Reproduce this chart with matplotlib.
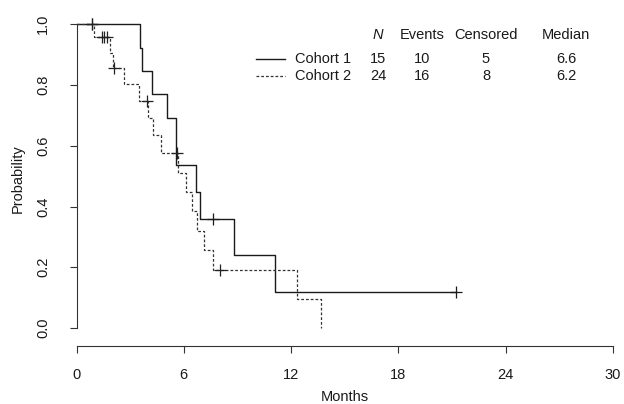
import matplotlib
matplotlib.use("Agg")
import matplotlib.pyplot as plt
from matplotlib.lines import Line2D

plt.rcParams['font.family'] = ['Liberation Sans', 'DejaVu Sans']

# ---- data ----
c1_times = [0, 3.53, 3.68, 4.24, 5.04, 5.54, 6.66, 6.9, 8.8, 11.1]
c1_surv = [1.0, 0.923, 0.846, 0.769, 0.692, 0.538, 0.448, 0.359, 0.239, 0.120]
c1_end = 21.2
c1_cens_t = [0.85, 7.63, 21.2]
c1_cens_s = [1.0, 0.359, 0.120]

c2_times = [0, 1.0, 1.9, 2.05, 2.65, 3.47, 4.0, 4.3, 4.7, 5.65, 6.15, 6.47, 6.75, 7.15, 7.65, 12.35, 13.65]
c2_surv = [1.0, 0.957, 0.906, 0.856, 0.802, 0.749, 0.691, 0.634, 0.576, 0.512, 0.448, 0.384, 0.320, 0.256, 0.192, 0.096, 0.0]
c2_end = 13.65
c2_cens_t = [0.85, 1.4, 1.55, 1.7, 2.1, 3.92, 5.6, 8.05]
c2_cens_s = [1.0, 0.957, 0.957, 0.957, 0.856, 0.749, 0.576, 0.192]

cohorts = ["Cohort 1", "Cohort 2"]
n_vals = ["15", "24"]
events = ["10", "16"]
censored = ["5", "8"]
medians = ["6.6", "6.2"]

xticks = [0, 6, 12, 18, 24, 30]
yticks = [0.0, 0.2, 0.4, 0.6, 0.8, 1.0]

W, H = 624, 404
fig = plt.figure(figsize=(W / 100, H / 100), dpi=100)

def fx(px):
    return px / W

def fy(py):
    return 1 - py / H

# axes placement in pixels
x0_px, x30_px = 76.5, 613.0
y1_px, y0_px = 24.3, 328.0
ppu = y0_px - y1_px
ybot, ytop = -0.058, 1.04
ax_bottom_px = y0_px - ybot * ppu
ax_top_px = y0_px - ytop * ppu
ax = fig.add_axes([fx(x0_px), fy(ax_bottom_px), fx(x30_px) - fx(x0_px), fy(ax_top_px) - fy(ax_bottom_px)])
ax.set_xlim(0, 30)
ax.set_ylim(ybot, ytop)

solid_kw = dict(color="#1a1a1a", lw=1.0)
dash_kw = dict(color="#333333", lw=0.9, dashes=(2.2, 1.6))

ax.step(c1_times + [c1_end], c1_surv + [c1_surv[-1]], where="post", **solid_kw)
ax.step(c2_times + [c2_end], c2_surv + [c2_surv[-1]], where="post", **dash_kw)
ax.plot(c1_cens_t, c1_cens_s, ls="none", marker="+", ms=9, mew=0.9, color="#1a1a1a")
ax.plot(c2_cens_t, c2_cens_s, ls="none", marker="+", ms=9, mew=0.9, color="#222222")

for s in ["top", "right"]:
    ax.spines[s].set_visible(False)
ax.spines["left"].set_bounds(0, 1)
ax.spines["bottom"].set_bounds(0, 30)
for s in ["left", "bottom"]:
    ax.spines[s].set_linewidth(0.8)
    ax.spines[s].set_color("#333333")

ax.set_xticks(xticks)
ax.set_xticklabels([str(t) for t in xticks])
ax.set_yticks(yticks)
ax.set_yticklabels([f"{t:.1f}" for t in yticks], rotation=90, va="center")
ax.tick_params(axis="both", length=5, width=0.8, color="#333333", labelsize=10.5, labelcolor="#1a1a1a")
ax.tick_params(axis="x", pad=11)
ax.tick_params(axis="y", pad=14)

ax.set_xlabel("Months", fontsize=10.5, color="#1a1a1a", labelpad=6)
ax.set_ylabel("Probability", fontsize=10.5, color="#1a1a1a", labelpad=8)

# ---- table legend ----
fs = 10.5
hdr_y, r1_y, r2_y = 35, 59, 76
col_x = [378, 422, 486, 566]
fig.text(fx(col_x[0]), fy(hdr_y), "N", style="italic", ha="center", va="center", fontsize=fs, color="#1a1a1a")
for cx, h in zip(col_x[1:], ["Events", "Censored", "Median"]):
    fig.text(fx(cx), fy(hdr_y), h, ha="center", va="center", fontsize=fs, color="#1a1a1a")

rows_y = [r1_y, r2_y]
kws = [solid_kw, dash_kw]
for i in range(2):
    y = rows_y[i]
    fig.add_artist(Line2D([fx(256), fx(285)], [fy(y), fy(y)], transform=fig.transFigure, **kws[i]))
    fig.text(fx(295), fy(y), cohorts[i], ha="left", va="center", fontsize=fs, color="#1a1a1a")
    for cx, v in zip(col_x, [n_vals[i], events[i], censored[i], medians[i]]):
        fig.text(fx(cx), fy(y), v, ha="center", va="center", fontsize=fs, color="#1a1a1a")

fig.savefig("out.png", dpi=100, facecolor="white")
